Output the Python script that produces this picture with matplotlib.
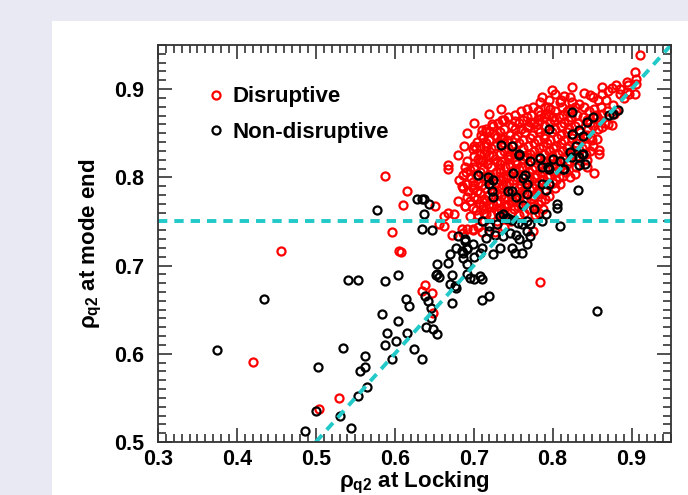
import numpy as np
import matplotlib.pyplot as plt
from matplotlib.patches import Rectangle

plt.rcParams['font.family'] = ['Liberation Sans', 'DejaVu Sans']
plt.rcParams['font.weight'] = 'bold'

# Disruptive shots (rho_q2 at locking, rho_q2 at mode end)
disruptive = np.array([
    (0.420, 0.591), (0.456, 0.716), (0.504, 0.537), (0.529, 0.550), (0.587, 0.802),
    (0.616, 0.784), (0.610, 0.769), (0.597, 0.738), (0.605, 0.717), (0.608, 0.715),
    (0.651, 0.768), (0.638, 0.678), (0.634, 0.671), (0.647, 0.669), (0.648, 0.646),
    (0.667, 0.814), (0.667, 0.809), (0.668, 0.760), (0.675, 0.758), (0.663, 0.756),
    (0.656, 0.747), (0.662, 0.745), (0.673, 0.735), (0.685, 0.741), (0.691, 0.741),
    (0.686, 0.737), (0.699, 0.740), (0.784, 0.681), (0.853, 0.805), (0.859, 0.827),
    (0.843, 0.820), (0.843, 0.812), (0.828, 0.804), (0.813, 0.801), (0.822, 0.800),
    (0.809, 0.792),
    (0.911, 0.939), (0.905, 0.919), (0.906, 0.911), (0.894, 0.908), (0.906, 0.906),
    (0.905, 0.894), (0.825, 0.902), (0.863, 0.902), (0.875, 0.901), (0.885, 0.900),
    (0.886, 0.895), (0.863, 0.894), (0.894, 0.897), (0.897, 0.895), (0.851, 0.891),
    (0.847, 0.893), (0.857, 0.888), (0.868, 0.888), (0.876, 0.882), (0.878, 0.872),
    (0.875, 0.859), (0.863, 0.872), (0.862, 0.857), (0.849, 0.846), (0.856, 0.843),
    (0.859, 0.831), (0.851, 0.835), (0.811, 0.888), (0.822, 0.891), (0.825, 0.885),
    (0.834, 0.883), (0.799, 0.899), (0.803, 0.894), (0.786, 0.891), (0.784, 0.885),
    (0.796, 0.888), (0.809, 0.885), (0.794, 0.880), (0.739, 0.865), (0.752, 0.864),
    (0.723, 0.861), (0.710, 0.854), (0.720, 0.852), (0.701, 0.836), (0.716, 0.836),
    (0.729, 0.846), (0.737, 0.843), (0.746, 0.848), (0.752, 0.855), (0.767, 0.857),
    (0.771, 0.863), (0.781, 0.861), (0.784, 0.871), (0.792, 0.872), (0.800, 0.868),
    (0.699, 0.832), (0.704, 0.840), (0.708, 0.820), (0.701, 0.810), (0.699, 0.795),
    (0.704, 0.776), (0.699, 0.765), (0.699, 0.742), (0.685, 0.790), (0.691, 0.778),
    (0.689, 0.767), (0.680, 0.773), (0.695, 0.756), (0.682, 0.797), (0.690, 0.806),
    (0.708, 0.827), (0.720, 0.825), (0.710, 0.820), (0.691, 0.818), (0.689, 0.812),
    (0.695, 0.808), (0.687, 0.803), (0.697, 0.799), (0.691, 0.793), (0.699, 0.791),
    (0.687, 0.788), (0.693, 0.784), (0.701, 0.778), (0.695, 0.773), (0.689, 0.767),
    (0.703, 0.763), (0.712, 0.767), (0.724, 0.769), (0.729, 0.763), (0.716, 0.758),
    (0.733, 0.773), (0.741, 0.769), (0.737, 0.791), (0.741, 0.799), (0.733, 0.806),
    (0.746, 0.814), (0.758, 0.810), (0.729, 0.818), (0.746, 0.825), (0.767, 0.823),
    (0.775, 0.739),
    # dense core
    (0.775, 0.880), (0.790, 0.880), (0.812, 0.880), (0.828, 0.880), (0.840, 0.880), (0.861, 0.880),
    (0.760, 0.875), (0.781, 0.875), (0.803, 0.875), (0.818, 0.875), (0.846, 0.875), (0.869, 0.875),
    (0.744, 0.868), (0.768, 0.868), (0.789, 0.868), (0.808, 0.868), (0.823, 0.868), (0.838, 0.868),
    (0.856, 0.868), (0.731, 0.862), (0.758, 0.862), (0.776, 0.862), (0.797, 0.862), (0.815, 0.862),
    (0.832, 0.862), (0.848, 0.862), (0.866, 0.862), (0.716, 0.855), (0.739, 0.855), (0.760, 0.855),
    (0.781, 0.855), (0.803, 0.855), (0.821, 0.855), (0.845, 0.855), (0.857, 0.855), (0.709, 0.848),
    (0.727, 0.848), (0.755, 0.848), (0.774, 0.848), (0.790, 0.848), (0.810, 0.848), (0.826, 0.848),
    (0.843, 0.848), (0.720, 0.842), (0.742, 0.842), (0.762, 0.842), (0.781, 0.842), (0.797, 0.842),
    (0.815, 0.842), (0.833, 0.842), (0.850, 0.842), (0.708, 0.836), (0.727, 0.836), (0.750, 0.836),
    (0.769, 0.836), (0.788, 0.836), (0.804, 0.836), (0.821, 0.836), (0.842, 0.836), (0.715, 0.830),
    (0.738, 0.830), (0.753, 0.830), (0.776, 0.830), (0.795, 0.830), (0.812, 0.830), (0.828, 0.830),
    (0.848, 0.830), (0.700, 0.824), (0.725, 0.824), (0.743, 0.824), (0.764, 0.824), (0.781, 0.824),
    (0.799, 0.824), (0.817, 0.824), (0.831, 0.824), (0.712, 0.818), (0.735, 0.818), (0.752, 0.818),
    (0.772, 0.818), (0.789, 0.818), (0.805, 0.818), (0.821, 0.818), (0.700, 0.812), (0.722, 0.812),
    (0.740, 0.812), (0.761, 0.812), (0.778, 0.812), (0.795, 0.812), (0.830, 0.812), (0.708, 0.806),
    (0.728, 0.806), (0.747, 0.806), (0.770, 0.806), (0.786, 0.806), (0.803, 0.806), (0.817, 0.806),
    (0.714, 0.800), (0.737, 0.800), (0.755, 0.800), (0.776, 0.800), (0.793, 0.800), (0.808, 0.800),
    (0.706, 0.794), (0.728, 0.794), (0.745, 0.794), (0.765, 0.794), (0.783, 0.794), (0.800, 0.794),
    (0.699, 0.788), (0.714, 0.788), (0.735, 0.788), (0.757, 0.788), (0.775, 0.788), (0.803, 0.788),
    (0.708, 0.782), (0.730, 0.782), (0.746, 0.782), (0.764, 0.782), (0.782, 0.782), (0.713, 0.776),
    (0.738, 0.776), (0.752, 0.776), (0.772, 0.776), (0.790, 0.776), (0.708, 0.770), (0.720, 0.770),
    (0.744, 0.770), (0.760, 0.770), (0.781, 0.770), (0.712, 0.764), (0.735, 0.764), (0.751, 0.764),
    (0.770, 0.764), (0.788, 0.764), (0.705, 0.757), (0.722, 0.757), (0.740, 0.757), (0.758, 0.757),
    (0.778, 0.757), (0.713, 0.750), (0.730, 0.750), (0.747, 0.750), (0.705, 0.744), (0.738, 0.744),
    (0.710, 0.738), (0.727, 0.738),
    (0.815, 0.892), (0.840, 0.896), (0.870, 0.898), (0.880, 0.905), (0.720, 0.872), (0.735, 0.878),
    (0.700, 0.862), (0.692, 0.850), (0.688, 0.836), (0.680, 0.825), (0.870, 0.860), (0.880, 0.875),
    (0.890, 0.890), (0.895, 0.905),
    # staggered fill of the core
    (0.768, 0.878), (0.797, 0.878), (0.822, 0.878), (0.852, 0.878),
    (0.752, 0.871), (0.773, 0.871), (0.796, 0.871), (0.813, 0.871), (0.831, 0.871), (0.855, 0.871),
    (0.736, 0.865), (0.762, 0.865), (0.783, 0.865), (0.802, 0.865), (0.819, 0.865), (0.844, 0.865),
    (0.860, 0.865), (0.724, 0.858), (0.748, 0.858), (0.770, 0.858), (0.790, 0.858), (0.810, 0.858),
    (0.828, 0.858), (0.851, 0.858), (0.715, 0.851), (0.733, 0.851), (0.765, 0.851), (0.784, 0.851),
    (0.799, 0.851), (0.818, 0.851), (0.835, 0.851), (0.712, 0.845), (0.735, 0.845), (0.752, 0.845),
    (0.771, 0.845), (0.789, 0.845), (0.806, 0.845), (0.824, 0.845), (0.840, 0.845), (0.716, 0.839),
    (0.738, 0.839), (0.757, 0.839), (0.776, 0.839), (0.793, 0.839), (0.811, 0.839), (0.829, 0.839),
    (0.703, 0.833), (0.722, 0.833), (0.744, 0.833), (0.762, 0.833), (0.783, 0.833), (0.800, 0.833),
    (0.818, 0.833), (0.837, 0.833), (0.713, 0.827), (0.733, 0.827), (0.751, 0.827), (0.771, 0.827),
    (0.789, 0.827), (0.807, 0.827), (0.824, 0.827), (0.842, 0.827), (0.705, 0.821), (0.727, 0.821),
    (0.745, 0.821), (0.763, 0.821), (0.781, 0.821), (0.797, 0.821), (0.813, 0.821), (0.717, 0.815),
    (0.733, 0.815), (0.755, 0.815), (0.769, 0.815), (0.785, 0.815), (0.802, 0.815), (0.818, 0.815),
    (0.712, 0.809), (0.733, 0.809), (0.752, 0.809), (0.774, 0.809), (0.790, 0.809), (0.808, 0.809),
    (0.703, 0.803), (0.721, 0.803), (0.743, 0.803), (0.761, 0.803), (0.780, 0.803), (0.797, 0.803),
    (0.718, 0.797), (0.733, 0.797), (0.750, 0.797), (0.770, 0.797), (0.787, 0.797), (0.804, 0.797),
    (0.710, 0.791), (0.722, 0.791), (0.741, 0.791), (0.760, 0.791), (0.779, 0.791), (0.795, 0.791),
    (0.704, 0.785), (0.726, 0.785), (0.742, 0.785), (0.761, 0.785), (0.780, 0.785), (0.718, 0.779),
    (0.734, 0.779), (0.757, 0.779), (0.776, 0.779), (0.795, 0.779), (0.715, 0.773), (0.730, 0.773),
    (0.748, 0.773), (0.766, 0.773), (0.785, 0.773), (0.720, 0.767), (0.738, 0.767), (0.756, 0.767),
    (0.775, 0.767), (0.713, 0.760), (0.731, 0.760), (0.747, 0.760), (0.764, 0.760), (0.783, 0.760),
])

# Non-disruptive shots
non_disruptive = np.array([
    (0.375, 0.604), (0.434, 0.662), (0.486, 0.512), (0.500, 0.535), (0.530, 0.530),
    (0.544, 0.516), (0.553, 0.552), (0.565, 0.562), (0.503, 0.585), (0.556, 0.580),
    (0.562, 0.585), (0.534, 0.607), (0.562, 0.598), (0.587, 0.610), (0.601, 0.614),
    (0.597, 0.594), (0.635, 0.594), (0.624, 0.605), (0.590, 0.623), (0.616, 0.623),
    (0.584, 0.645), (0.604, 0.637), (0.646, 0.640), (0.639, 0.630), (0.649, 0.628),
    (0.654, 0.622), (0.614, 0.662), (0.618, 0.654), (0.638, 0.665), (0.642, 0.660),
    (0.646, 0.652), (0.672, 0.657), (0.711, 0.661), (0.719, 0.666), (0.541, 0.684),
    (0.554, 0.684), (0.587, 0.683), (0.604, 0.689), (0.652, 0.689), (0.656, 0.687),
    (0.673, 0.689), (0.670, 0.679), (0.676, 0.677), (0.678, 0.675), (0.691, 0.690),
    (0.695, 0.686), (0.701, 0.685), (0.708, 0.688), (0.710, 0.685), (0.856, 0.649),
    (0.577, 0.763), (0.628, 0.776), (0.634, 0.776), (0.637, 0.775), (0.643, 0.770),
    (0.637, 0.759), (0.634, 0.742), (0.647, 0.740), (0.680, 0.733), (0.689, 0.728),
    (0.678, 0.720), (0.685, 0.716), (0.691, 0.720), (0.670, 0.713), (0.667, 0.703),
    (0.686, 0.708), (0.692, 0.702), (0.654, 0.702), (0.653, 0.690),
    (0.758, 0.825), (0.771, 0.818), (0.784, 0.822), (0.794, 0.812), (0.800, 0.821),
    (0.809, 0.818), (0.813, 0.810), (0.706, 0.803), (0.718, 0.800), (0.724, 0.797),
    (0.720, 0.792), (0.723, 0.784), (0.724, 0.778), (0.743, 0.785), (0.749, 0.784),
    (0.753, 0.778), (0.762, 0.799), (0.767, 0.792), (0.767, 0.781), (0.786, 0.792),
    (0.792, 0.786), (0.796, 0.792), (0.805, 0.770), (0.806, 0.765), (0.792, 0.759),
    (0.762, 0.769), (0.777, 0.764), (0.737, 0.759), (0.733, 0.756), (0.741, 0.754),
    (0.744, 0.754), (0.749, 0.752), (0.756, 0.748), (0.761, 0.747), (0.767, 0.750),
    (0.771, 0.747), (0.786, 0.750), (0.711, 0.750), (0.720, 0.745), (0.729, 0.747),
    (0.809, 0.745), (0.720, 0.739), (0.727, 0.735), (0.716, 0.731), (0.737, 0.733),
    (0.746, 0.737), (0.754, 0.735), (0.758, 0.730), (0.767, 0.739), (0.771, 0.733),
    (0.768, 0.725), (0.733, 0.720), (0.749, 0.720), (0.752, 0.714), (0.761, 0.714),
    (0.689, 0.730), (0.699, 0.725), (0.692, 0.719), (0.686, 0.714), (0.711, 0.720),
    (0.724, 0.713), (0.701, 0.710), (0.708, 0.714),
    (0.825, 0.823), (0.834, 0.823), (0.838, 0.826), (0.834, 0.814), (0.841, 0.815),
    (0.815, 0.810), (0.832, 0.786),
    (0.825, 0.874), (0.851, 0.868), (0.843, 0.863), (0.834, 0.854), (0.825, 0.849),
    (0.872, 0.871), (0.838, 0.847), (0.822, 0.829), (0.837, 0.827), (0.830, 0.836),
    (0.796, 0.855), (0.735, 0.837), (0.748, 0.835), (0.758, 0.827),
    (0.786, 0.812), (0.796, 0.810), (0.750, 0.805), (0.765, 0.803), (0.883, 0.876),
    (0.876, 0.872),
])

fig = plt.figure(figsize=(6.88, 4.95), dpi=100, facecolor='#e9e9f3')
fig.patches.append(Rectangle((52 / 688, 0), 1, 474 / 495, transform=fig.transFigure,
                             facecolor='white', edgecolor='none', zorder=-10))
ax = fig.add_axes([158 / 688, 53 / 495, 513 / 688, 397 / 495])

ax.plot(disruptive[:, 0], disruptive[:, 1], 'o', ms=5.8, mfc='none', mec='#ff0000',
        mew=1.6, label='Disruptive')
ax.plot(non_disruptive[:, 0], non_disruptive[:, 1], 'o', ms=5.8, mfc='none', mec='black',
        mew=1.6, label='Non-disruptive')

# reference lines
cyan = '#22c9c9'
ax.axhline(0.75, color=cyan, lw=2.8, dashes=(2.4, 1.8))
ax.plot([0.5, 0.95], [0.5, 0.95], color=cyan, lw=2.8, dashes=(2.4, 1.8))

ax.set_xlim(0.3, 0.95)
ax.set_ylim(0.5, 0.95)
ax.set_xticks([0.3, 0.4, 0.5, 0.6, 0.7, 0.8, 0.9])
ax.set_yticks([0.5, 0.6, 0.7, 0.8, 0.9])
ax.set_xticks(np.arange(0.3, 0.951, 0.01), minor=True)
ax.set_yticks(np.arange(0.5, 0.951, 0.01), minor=True)
ax.tick_params(which='both', direction='in', top=True, right=True, labelsize=15.5,
               width=1.1, color='#222222')
ax.tick_params(which='major', length=10)
ax.tick_params(which='minor', length=5.5)
ax.tick_params(axis='y', pad=10)
ax.tick_params(axis='x', pad=5)
for s in ax.spines.values():
    s.set_linewidth(1.3)
    s.set_color('#333333')

ax.set_xlabel(r'$\mathregular{ρ_{q2}}$ at Locking', fontsize=16, fontweight='bold', labelpad=0)
ax.set_ylabel(r'$\mathregular{ρ_{q2}}$ at mode end', fontsize=16, fontweight='bold', labelpad=7)

leg = ax.legend(loc='upper left', bbox_to_anchor=(0.08, 0.918), frameon=False, fontsize=16,
                handlelength=0.7, handletextpad=0.4, labelspacing=0.65, borderaxespad=0)
for t in leg.get_texts():
    t.set_fontweight('bold')

fig.savefig('out.png', dpi=100, facecolor=fig.get_facecolor())
